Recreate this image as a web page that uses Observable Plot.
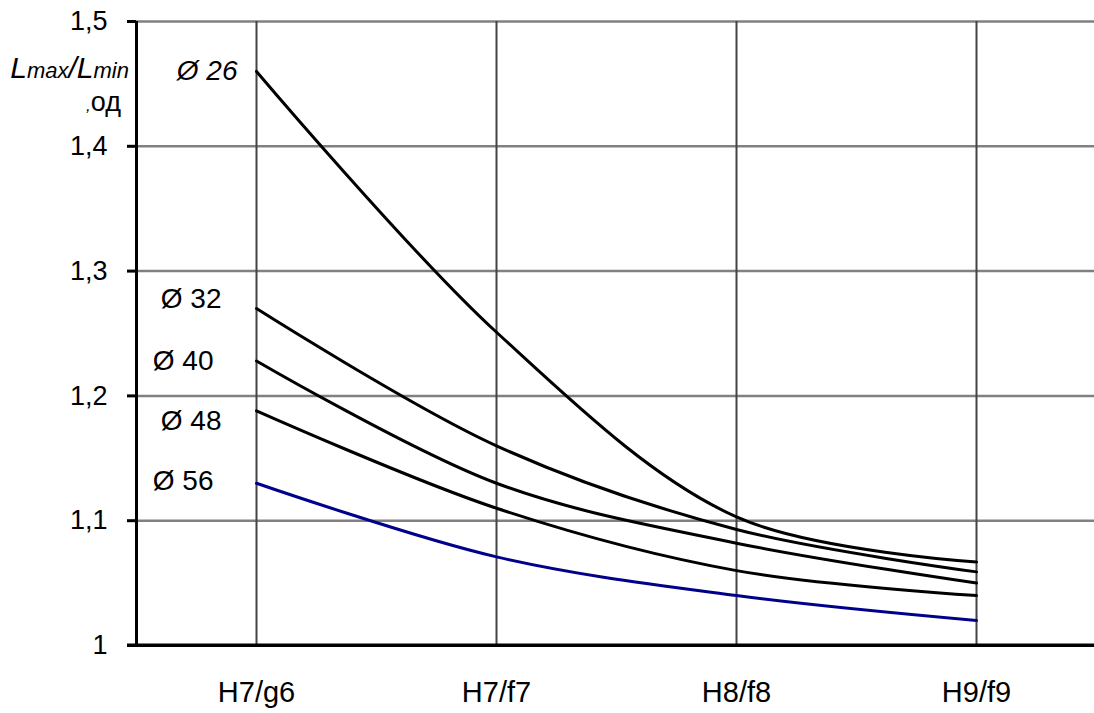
<!DOCTYPE html>
<html>
<head>
<meta charset="utf-8">
<script src="https://cdn.jsdelivr.net/npm/d3@7"></script>
<script src="https://cdn.jsdelivr.net/npm/@observablehq/plot@0.6"></script>
<style>
  html, body { margin: 0; padding: 0; background: #fff; overflow: hidden; }
  #chart svg { display: block; font-family: "Liberation Sans", Arial, sans-serif; }
</style>
</head>
<body>
<div id="chart"></div>
<script>
const categories = ["H7/g6", "H7/f7", "H8/f8", "H9/f9"];
const seriesNames = ["Ø 26", "Ø 32", "Ø 40", "Ø 48", "Ø 56"];
const d26 = [1.46, 1.251, 1.103, 1.067];
const d32 = [1.27, 1.160, 1.093, 1.059];
const d40 = [1.228, 1.130, 1.082, 1.050];
const d48 = [1.188, 1.110, 1.060, 1.040];
const d56 = [1.130, 1.071, 1.040, 1.020];
const yTicks = [1, 1.1, 1.2, 1.3, 1.4, 1.5];

const allSeries = [d26, d32, d40, d48, d56];
const colors = ["#000", "#000", "#000", "#000", "#00008b"];
const labelDx = [-19, -35, -43, -35, -43];
const labelDy = [0, -10, 0, 10, -2];

const rows = [];
allSeries.forEach((vals, s) => vals.forEach((v, i) => rows.push({series: seriesNames[s], cat: categories[i], v})));

const fmt = d => String(+d.toFixed(1)).replace(".", ",");

const marks = [
  Plot.gridY(yTicks.filter(t => t > 1), {stroke: "#808080", strokeOpacity: 1, strokeWidth: 2.5}),
  Plot.gridX(categories, {stroke: "#444", strokeOpacity: 1, strokeWidth: 2}),
  Plot.axisY(yTicks, {tickSize: 9, tickPadding: 20, tickFormat: fmt, fontSize: 27, fill: "#000", stroke: "#000", strokeWidth: 3, label: null}),
  Plot.axisX(categories, {tickSize: 0, tickPadding: 36, fontSize: 29, fill: "#000", label: null}),
  Plot.ruleX([categories[0]], {stroke: "#000", strokeWidth: 3, dx: -120, y1: 1, y2: 1.5}),
  Plot.ruleY([1], {stroke: "#000", strokeWidth: 3})
];
allSeries.forEach((vals, s) => {
  marks.push(Plot.line(rows.filter(r => r.series === seriesNames[s]), {
    x: "cat", y: "v", stroke: colors[s], strokeWidth: 3, curve: "catmull-rom"
  }));
  marks.push(Plot.text([seriesNames[s]], {
    x: () => categories[0], y: () => vals[0], text: d => d,
    textAnchor: "end", dx: labelDx[s], dy: labelDy[s], fontSize: 28,
    fontStyle: s === 0 ? "italic" : "normal", fill: "#000"
  }));
});

const chart = Plot.plot({
  width: 1094,
  height: 713,
  marginLeft: 136,
  marginTop: 21,
  marginBottom: 68,
  marginRight: 0,
  x: {type: "point", domain: categories, range: [136, 1096], padding: 0.5, axis: null},
  y: {domain: [1, 1.5], axis: null},
  style: {fontFamily: "Liberation Sans, Arial, sans-serif", overflow: "hidden"},
  marks
});

const svg = d3.select(chart);
svg.append("line").attr("x1", 127).attr("x2", 1094).attr("y1", 645).attr("y2", 645)
  .attr("stroke", "#000").attr("stroke-width", 3);

// y-axis title
const t = svg.append("text").attr("x", 129).attr("y", 78).attr("text-anchor", "end")
  .attr("font-style", "italic").attr("fill", "#000").attr("font-family", "Liberation Sans, Arial, sans-serif");
t.append("tspan").attr("font-size", 30).text("L");
t.append("tspan").attr("font-size", 22).text("max");
t.append("tspan").attr("font-size", 30).text("/L");
t.append("tspan").attr("font-size", 22).text("min");
const t2 = svg.append("text").attr("x", 121).attr("y", 111).attr("text-anchor", "end")
  .attr("fill", "#000").attr("font-family", "Liberation Sans, Arial, sans-serif");
t2.append("tspan").attr("font-size", 17).attr("font-style", "italic").text(",");
t2.append("tspan").attr("font-size", 27).text("од");

document.getElementById("chart").appendChild(chart);
</script>
</body>
</html>
